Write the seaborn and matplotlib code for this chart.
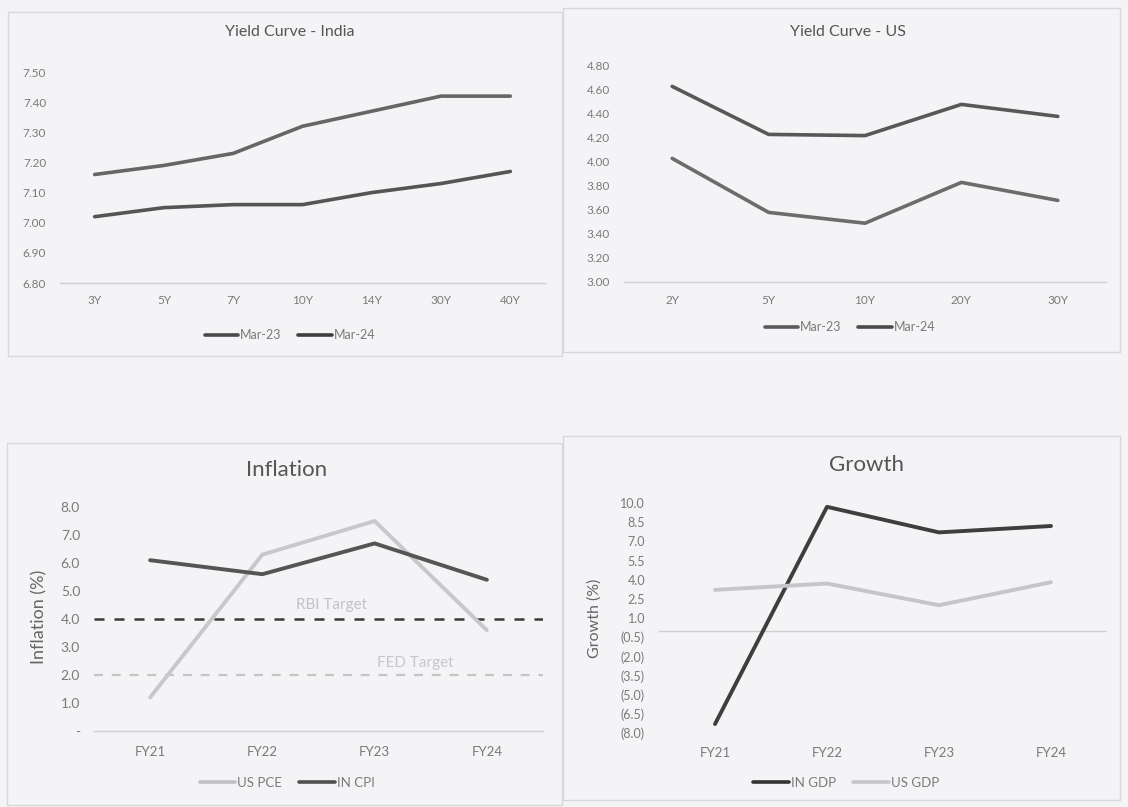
import numpy as np
import pandas as pd
import matplotlib
matplotlib.use("Agg")
import matplotlib.pyplot as plt
from matplotlib.patches import Rectangle
from matplotlib.ticker import FuncFormatter
from matplotlib.lines import Line2D
import seaborn as sns

# ---- data ----
india_tenors = ["3Y", "5Y", "7Y", "10Y", "14Y", "30Y", "40Y"]
india_mar23 = [7.16, 7.19, 7.23, 7.32, 7.37, 7.42, 7.42]
india_mar24 = [7.02, 7.05, 7.06, 7.06, 7.10, 7.13, 7.17]

us_tenors = ["2Y", "5Y", "10Y", "20Y", "30Y"]
us_mar23 = [4.03, 3.58, 3.49, 3.83, 3.68]
us_mar24 = [4.63, 4.23, 4.22, 4.48, 4.38]

fiscal_years = ["FY21", "FY22", "FY23", "FY24"]
us_pce = [1.2, 6.3, 7.5, 3.6]
in_cpi = [6.1, 5.6, 6.7, 5.4]
rbi_target = 4.0
fed_target = 2.0

in_gdp = [-7.3, 9.7, 7.7, 8.2]
us_gdp = [3.2, 3.7, 2.0, 3.8]

# ---- style ----
sns.set_theme(style="white")
plt.rcParams["font.family"] = ["Lato", "DejaVu Sans"]

W, H = 1128, 807
BG = "#f4f4f6"
TICK = "#7a7a7a"
TITLE = "#555555"
BORDER = "#d8d8da"

fig = plt.figure(figsize=(W / 100, H / 100), dpi=100, facecolor=BG)


def box(x0, y0, x1, y1):
    return [x0 / W, 1 - y1 / H, (x1 - x0) / W, (y1 - y0) / H]


def fx(x):
    return x / W


def fy(y):
    return 1 - y / H


# panel frames
for (x0, y0, x1, y1) in [(8, 12, 562, 356), (563, 8, 1120, 352),
                         (7, 443, 562, 805), (563, 436, 1120, 800)]:
    fig.add_artist(Rectangle((x0 / W, 1 - y1 / H), (x1 - x0) / W, (y1 - y0) / H,
                             transform=fig.transFigure, fill=False,
                             edgecolor=BORDER, lw=1.0))


def style_axes(ax, ylim, yticks, fmt, fs_y, fs_x, xpad, axis_line=True):
    ax.set_facecolor("none")
    for s in ["top", "right", "left"]:
        ax.spines[s].set_visible(False)
    ax.spines["bottom"].set_visible(axis_line)
    ax.spines["bottom"].set_color("#d0d0d0")
    ax.spines["bottom"].set_linewidth(1.0)
    ax.set_ylim(*ylim)
    ax.set_yticks(yticks)
    ax.yaxis.set_major_formatter(FuncFormatter(fmt))
    ax.tick_params(axis="both", length=0, colors=TICK)
    ax.tick_params(axis="y", labelsize=fs_y, pad=10)
    ax.tick_params(axis="x", labelsize=fs_x, pad=xpad)
    ax.set_xlabel("")
    ax.set_ylabel("")
    ax.grid(False)


def make_legend(handles, labels, x, y, fs):
    fig.legend(handles, labels, loc="center", bbox_to_anchor=(fx(x), fy(y)),
               ncol=2, frameon=False, fontsize=fs, handlelength=2.7,
               handletextpad=0.15, columnspacing=1.3, labelcolor=TICK)


# ---- Yield Curve - India ----
ax1 = fig.add_axes(box(60, 72, 545, 283))
df_in = pd.DataFrame({"tenor": india_tenors * 2,
                      "yield": india_mar23 + india_mar24,
                      "series": ["Mar-23"] * 7 + ["Mar-24"] * 7})
sns.lineplot(data=df_in, x="tenor", y="yield", hue="series",
             palette={"Mar-23": "#666666", "Mar-24": "#555555"},
             linewidth=2.6, sort=False, legend=False, ax=ax1)
ax1.set_xlim(-0.5, len(india_tenors) - 0.5)
style_axes(ax1, (6.8, 7.5), np.arange(6.8, 7.51, 0.1),
           lambda v, p: f"{v:.2f}", 8.5, 8.5, 9)
fig.text(fx(290), fy(32), "Yield Curve - India", ha="center", va="center",
         fontsize=11.5, color=TITLE)
make_legend([Line2D([], [], color="#4a4a4a", lw=2.6), Line2D([], [], color="#3e3e3e", lw=2.6)],
            ["Mar-23", "Mar-24"], 290, 335, 9)

# ---- Yield Curve - US ----
ax2 = fig.add_axes(box(624, 66, 1106, 282))
df_us = pd.DataFrame({"tenor": us_tenors * 2,
                      "yield": us_mar23 + us_mar24,
                      "series": ["Mar-23"] * 5 + ["Mar-24"] * 5})
sns.lineplot(data=df_us, x="tenor", y="yield", hue="series",
             palette={"Mar-23": "#6c6c6c", "Mar-24": "#585858"},
             linewidth=2.6, sort=False, legend=False, ax=ax2)
ax2.set_xlim(-0.5, len(us_tenors) - 0.5)
style_axes(ax2, (3.0, 4.8), np.arange(3.0, 4.81, 0.2),
           lambda v, p: f"{v:.2f}", 8.5, 8.5, 9)
fig.text(fx(848), fy(32), "Yield Curve - US", ha="center", va="center",
         fontsize=11.5, color=TITLE)
make_legend([Line2D([], [], color="#5a5a5a", lw=2.6), Line2D([], [], color="#4a4a4a", lw=2.6)],
            ["Mar-23", "Mar-24"], 850, 327, 9)

# ---- Inflation ----
ax3 = fig.add_axes(box(94, 507, 543, 731))
ax3.axhline(rbi_target, color="#3a3a3a", lw=1.8, ls=(0, (4, 4)), zorder=1)
ax3.axhline(fed_target, color="#c4c4c4", lw=1.6, ls=(0, (4, 4)), zorder=1)
df_inf = pd.DataFrame({"fy": fiscal_years * 2,
                       "value": us_pce + in_cpi,
                       "series": ["US PCE"] * 4 + ["IN CPI"] * 4})
sns.lineplot(data=df_inf, x="fy", y="value", hue="series",
             palette={"US PCE": "#c8c8ca", "IN CPI": "#555555"},
             linewidth=2.8, sort=False, legend=False, ax=ax3, zorder=3)
ax3.set_xlim(-0.5, len(fiscal_years) - 0.5)
style_axes(ax3, (0, 8), np.arange(0, 8.1, 1.0),
           lambda v, p: "-" if abs(v) < 1e-9 else f"{v:.1f}", 10, 9.5, 11)
ax3.text(1.62, 4.5, "RBI Target", ha="center", va="center", fontsize=11,
         color="#c2c2c4", zorder=2)
ax3.text(2.36, 2.44, "FED Target", ha="center", va="center", fontsize=11,
         color="#c8c8ca", zorder=2)
fig.text(fx(287), fy(470), "Inflation", ha="center", va="center",
         fontsize=16, color=TITLE)
fig.text(fx(39), fy(617), "Inflation (%)", ha="center", va="center",
         rotation=90, fontsize=13, color="#666666")
make_legend([Line2D([], [], color="#c0c0c2", lw=2.6), Line2D([], [], color="#505050", lw=2.6)],
            ["US PCE", "IN CPI"], 287, 783, 9.5)

# ---- Growth ----
ax4 = fig.add_axes(box(659, 503, 1107, 733))
ax4.axhline(0, color="#d0d0d0", lw=1.0, zorder=1)
df_gr = pd.DataFrame({"fy": fiscal_years * 2,
                      "value": in_gdp + us_gdp,
                      "series": ["IN GDP"] * 4 + ["US GDP"] * 4})
sns.lineplot(data=df_gr, x="fy", y="value", hue="series",
             palette={"IN GDP": "#3e3e3e", "US GDP": "#c6c6c8"},
             linewidth=2.8, sort=False, legend=False, ax=ax4, zorder=3)
ax4.set_xlim(-0.5, len(fiscal_years) - 0.5)
style_axes(ax4, (-8, 10), np.arange(-8, 10.01, 1.5),
           lambda v, p: f"({abs(v):.1f})" if v < -1e-9 else f"{v:.1f}",
           9, 9.5, 10, axis_line=False)
fig.text(fx(866), fy(465), "Growth", ha="center", va="center",
         fontsize=16, color=TITLE)
fig.text(fx(595), fy(618), "Growth (%)", ha="center", va="center",
         rotation=90, fontsize=11.5, color="#666666")
make_legend([Line2D([], [], color="#333333", lw=2.6), Line2D([], [], color="#c6c6c8", lw=2.6)],
            ["IN GDP", "US GDP"], 846, 783, 9.5)

fig.savefig("out.png", dpi=100, facecolor=BG)
